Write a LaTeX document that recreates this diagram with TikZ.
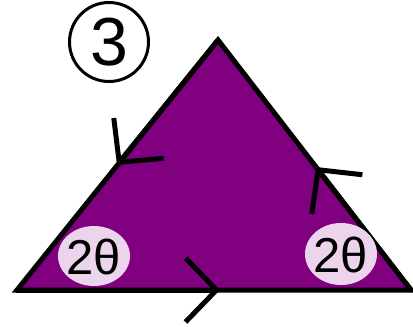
\documentclass[tikz,border=0pt]{standalone}
\usepackage{fontspec}
\setmainfont{Liberation Sans}
\usetikzlibrary{arrows.meta}
\definecolor{tripurple}{RGB}{128,0,128}
\definecolor{anglepink}{RGB}{236,212,236}
\begin{document}
\begin{tikzpicture}[x=1pt,y=-1pt,line cap=round,
    chev/.style={line width=5pt,-{Straight Barb[length=31pt,width=64pt,line width=5pt]}},
    anglelabel/.style={inner sep=0pt,font=\fontsize{49}{49}\selectfont}]
  \useasboundingbox (0,0) rectangle (413,327);
  \coordinate (top) at (218,40);
  \coordinate (left) at (17,290);
  \coordinate (right) at (411,290);
  \coordinate (mleft) at (117,165);
  \coordinate (mright) at (316,167);
  \coordinate (mbottom) at (220,290);
  \fill[tripurple] (top) -- (left) -- (right) -- cycle;
  % edges with direction marks
  \draw[chev] (left) -- (mbottom);
  \draw[chev] (right) -- (mright);
  \draw[chev] (top) -- (mleft);
  \draw[line width=5pt,line join=miter] (left) -- (right) -- (top) -- cycle;
  % angles
  \fill[anglepink] (94,256) ellipse [x radius=36, y radius=30];
  \fill[anglepink] (341,254) ellipse [x radius=36, y radius=31];
  \node[anglelabel] (aleft) at (94,257) {2θ};
  \node[anglelabel] (aright) at (341,255) {2θ};
  % number
  \node[circle,draw,line width=3pt,minimum size=79pt,inner sep=0pt,
        font=\fontsize{68}{68}\selectfont] (num) at (109,42) {3};
\end{tikzpicture}
\end{document}
